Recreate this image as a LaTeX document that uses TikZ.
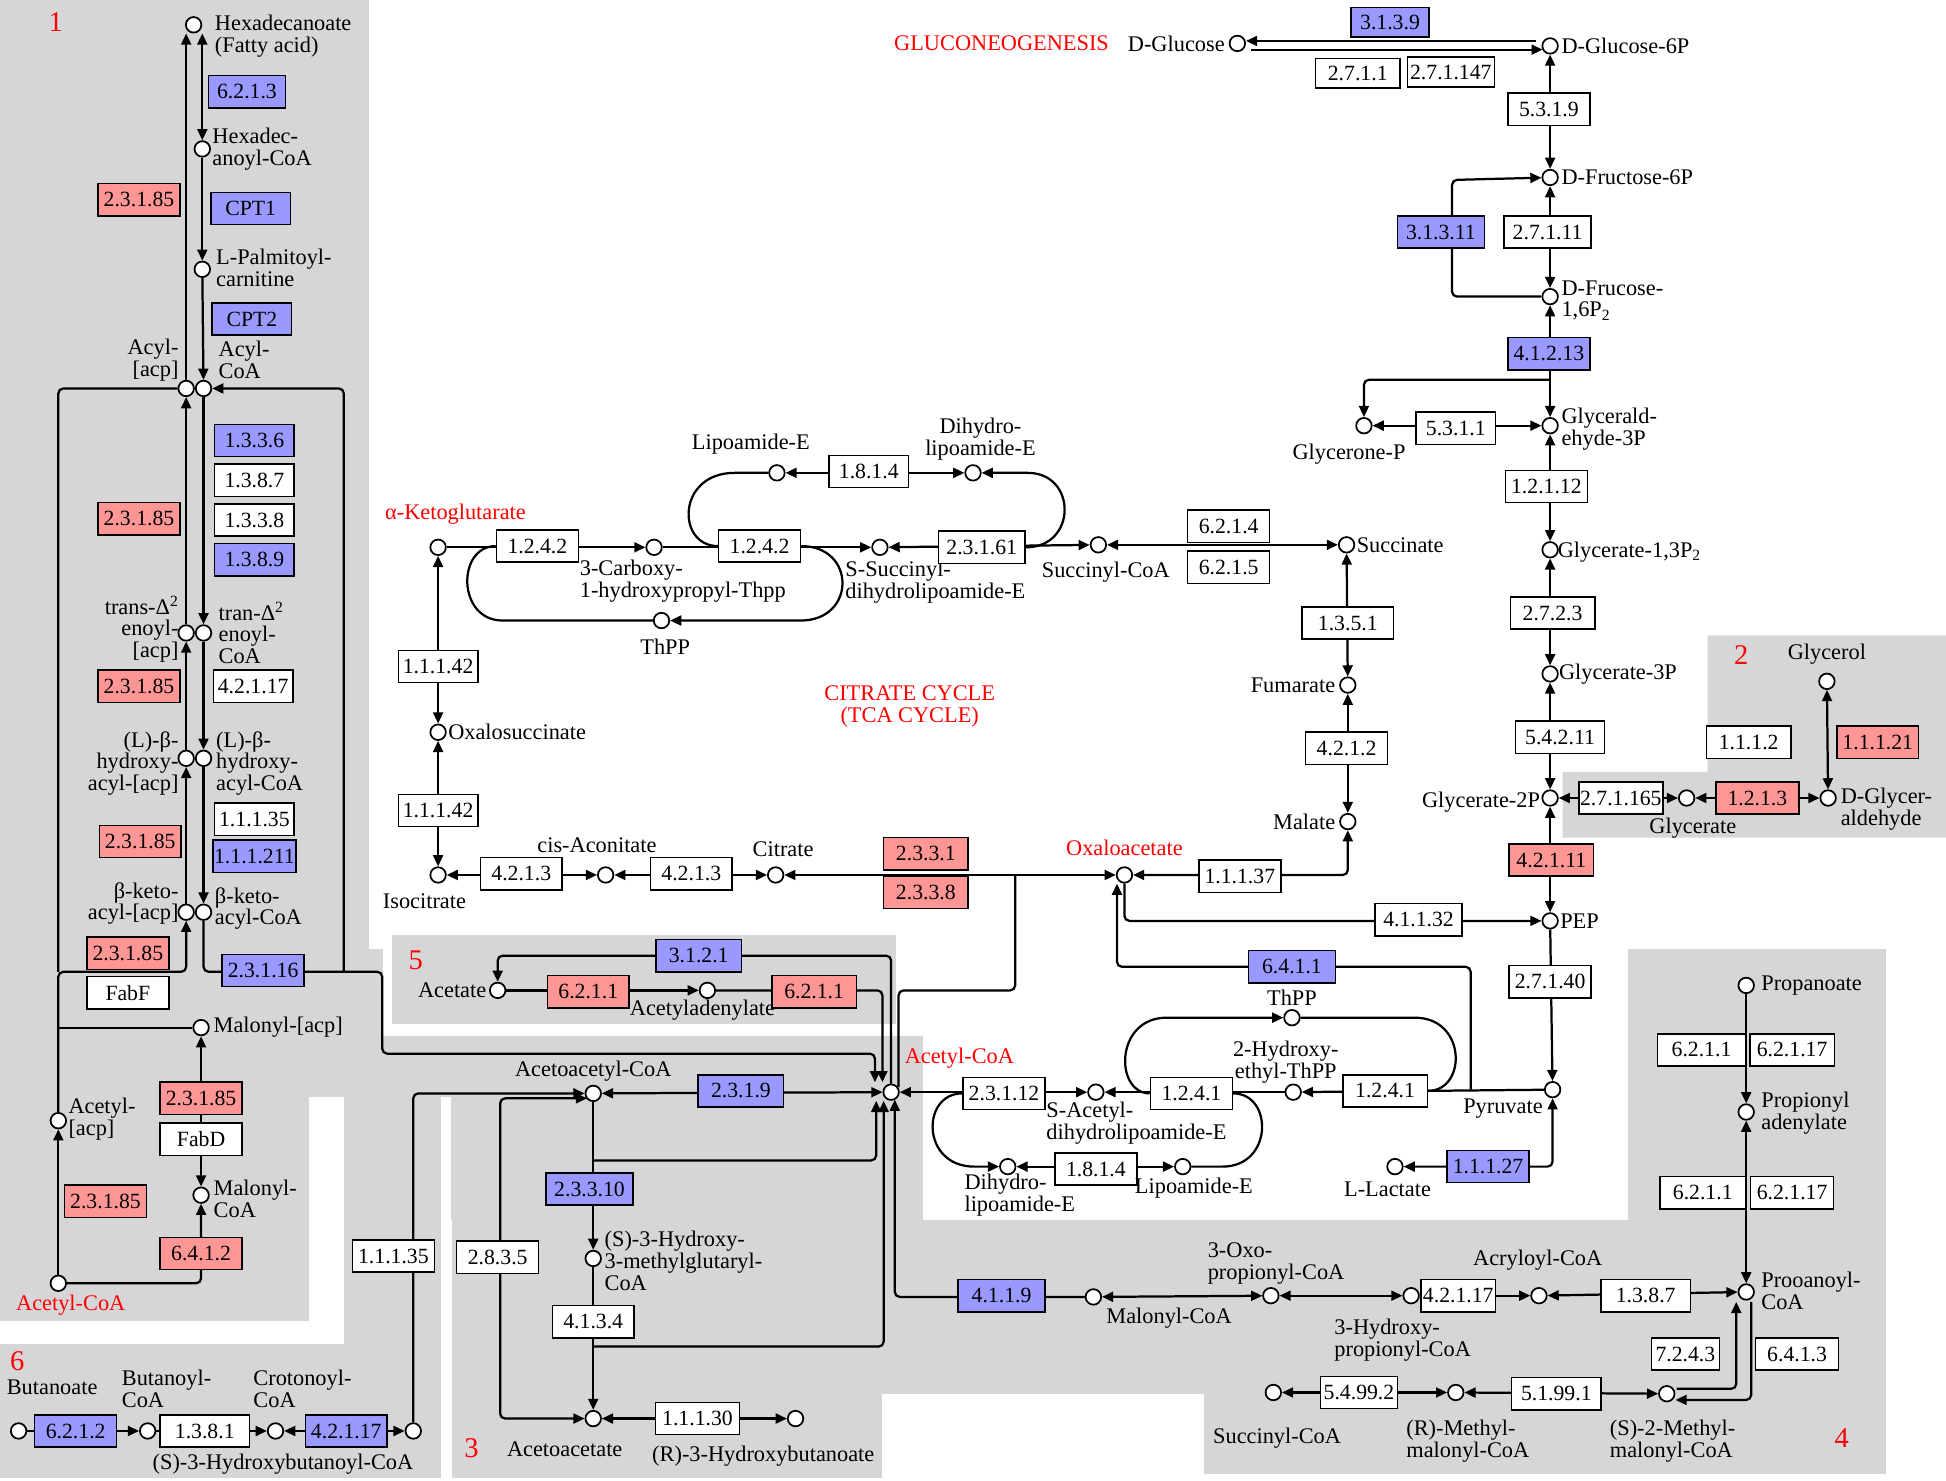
\documentclass[tikz,border=0pt]{standalone}
\usepackage{fontspec}
\setmainfont{Liberation Serif}
\usetikzlibrary{arrows.meta}
\pgfdeclarelayer{bg}
\pgfdeclarelayer{lines}
\pgfsetlayers{bg,lines,main}
\definecolor{greyreg}{RGB}{214,214,217}
\definecolor{enzblue}{RGB}{153,153,255}
\definecolor{enzred}{RGB}{255,150,150}
\definecolor{lblred}{RGB}{255,0,0}
\tikzset{
  met/.style={circle,draw,line width=1.4pt,fill=white,minimum size=12.5pt,inner sep=0pt},
  enz/.style={rectangle,draw,line width=1.2pt,fill=white,minimum width=66pt,minimum height=26pt,inner sep=1pt,font=\fontsize{17.5}{18}\selectfont},
  enzb/.style={enz,fill=enzblue},
  enzr/.style={enz,fill=enzred},
  lbl/.style={inner sep=1pt,font=\fontsize{18}{17.5}\selectfont},
  lblL/.style={lbl,anchor=west,align=left},
  lblR/.style={lbl,anchor=east,align=right},
  lblC/.style={lbl,align=center},
  redlbl/.style={lbl,text=lblred},
  regnum/.style={inner sep=0pt,text=lblred,font=\fontsize{23}{23}\selectfont},
  conn/.style={line width=1.8pt},
  rc/.style={rounded corners=4pt},
  >={Triangle[length=9pt,width=8pt]},
}
\begin{document}
\begin{tikzpicture}[x=1pt,y=-1pt]
\useasboundingbox (0,0) rectangle (1568,1193);
% ---------------- background regions
\begin{pgfonlayer}{bg}
\fill[white] (0,0) rectangle (1568,1193);
\fill[greyreg] (0,0) rectangle (297,775);
\fill[greyreg] (0,765) rectangle (309,884);
\fill[greyreg] (0,835) rectangle (744,884);
\fill[greyreg] (363,884) rectangle (744,983);
\fill[greyreg] (0,884) rectangle (249,1064);
\fill[greyreg] (277,884) rectangle (355,1191);
\fill[greyreg] (0,1083) rectangle (355,1191);
\fill[greyreg] (364,884) rectangle (711,1191);
\fill[greyreg] (364,983) rectangle (1520,1123);
\fill[greyreg] (1312,765) rectangle (1520,1188);
\fill[greyreg] (970,1122) rectangle (1520,1188);
\fill[greyreg] (316,753) rectangle (722,825);
\fill[greyreg] (1376,512) -- (1568,512) -- (1568,675) -- (1259,675) -- (1259,622) -- (1376,622) -- cycle;
\end{pgfonlayer}

% ---------------- region 1
\node[regnum] (n1) at (45,18) {1};
\node[met] (hexa) at (156,20) {};
\node[lblL] (t1) at (172,29) {Hexadecanoate\\(Fatty acid)};
\node[enzb,minimum width=62pt] (e6213) at (199,74) {6.2.1.3};
\node[met] (hexcoa) at (163,120) {};
\node[lblL] (t2) at (170,120) {Hexadec-\\anoyl-CoA};
\node[enzb,minimum width=64pt] (cpt1) at (202,168) {CPT1};
\node[enzr] (r1a) at (112,161) {2.3.1.85};
\node[met] (palm) at (163,217) {};
\node[lblL] (t3) at (173,216) {L-Palmitoyl-\\carnitine};
\node[enzb,minimum width=64pt] (cpt2) at (203,257) {CPT2};
\node[met] (acylacp) at (150,313) {};
\node[met] (acylcoa) at (164,313) {};
\node[lblR] (t4) at (145,290) {Acyl-\\{}[acp]};
\node[lblL] (t5) at (175,290) {Acyl-\\CoA};
\node[enzb,minimum width=64pt] (e1336) at (205,355) {1.3.3.6};
\node[enz,minimum width=64pt] (e1387) at (205,387) {1.3.8.7};
\node[enz,minimum width=64pt] (e1338) at (205,419) {1.3.3.8};
\node[enzb,minimum width=64pt] (e1389) at (205,451) {1.3.8.9};
\node[enzr] (r1b) at (112,418) {2.3.1.85};
\node[met] (enoylacp) at (150,510) {};
\node[met] (enoylcoa) at (164,510) {};
\node[lblR] (t6) at (145,507) {trans-Δ\textsuperscript{2}\\enoyl-\\{}[acp]};
\node[lblL] (t7) at (175,510) {tran-Δ\textsuperscript{2}\\enoyl-\\CoA};
\node[enzr] (r1c) at (112,553) {2.3.1.85};
\node[enz,minimum width=64pt] (e42117) at (204,553) {4.2.1.17};
\node[met] (hydacp) at (150,611) {};
\node[met] (hydcoa) at (164,611) {};
\node[lblR] (t8) at (145,615) {(L)-β-\\hydroxy-\\acyl-[acp]};
\node[lblL] (t9) at (173,615) {(L)-β-\\hydroxy-\\acyl-CoA};
\node[enzr] (r1d) at (113,678) {2.3.1.85};
\node[enz,minimum width=64pt] (e11135) at (205,660) {1.1.1.35};
\node[enzb,minimum width=64pt] (e111211) at (205,690) {1.1.1.211};
\node[met] (ketoacp) at (150,735) {};
\node[met] (ketocoa) at (164,735) {};
\node[lblR] (t10) at (145,728) {β-keto-\\acyl-[acp]};
\node[lblL] (t11) at (172,732) {β-keto-\\acyl-CoA};
\node[enzr] (r1e) at (103,768) {2.3.1.85};
\node[enz] (fabf) at (103,800) {FabF};
\node[enzb] (e23116) at (212,782) {2.3.1.16};
\node[met] (malacp) at (162,828) {};
\node[lblL] (t12) at (171,828) {Malonyl-[acp]};
\node[met] (acetylacp) at (47,903) {};
\node[lblL] (t13) at (54,902) {Acetyl-\\{}[acp]};
\node[enzr] (r1f) at (162,885) {2.3.1.85};
\node[enz] (fabd) at (162,918) {FabD};
\node[met] (malcoa) at (162,963) {};
\node[lblL] (t14) at (171,966) {Malonyl-\\CoA};
\node[enzr] (r1g) at (85,968) {2.3.1.85};
\node[enzr] (e6412) at (162,1010) {6.4.1.2};
\node[met] (accL) at (47,1034) {};
\node[redlbl] (t15) at (57,1052) {Acetyl-CoA};

% ---------------- region 6
\node[regnum] (n6) at (14,1097) {6};
\node[lbl] (t16) at (42,1118) {Butanoate};
\node[met] (but) at (15,1153) {};
\node[enzb] (e6212) at (61,1153) {6.2.1.2};
\node[met] (butcoa) at (119,1153) {};
\node[lblL] (t17) at (97,1119) {Butanoyl-\\CoA};
\node[enz,minimum width=72pt] (e1381) at (165,1153) {1.3.8.1};
\node[met] (crot) at (222,1153) {};
\node[lblL] (t18) at (203,1119) {Crotonoyl-\\CoA};
\node[enzb] (e42117b) at (279,1153) {4.2.1.17};
\node[met] (shb) at (333,1153) {};
\node[lbl] (t19) at (228,1180) {(S)-3-Hydroxybutanoyl-CoA};
\node[enz] (e11135b) at (317,1012) {1.1.1.35};

% ---------------- region 5
\node[regnum] (n5) at (335,774) {5};
\node[met] (acetate) at (401,798) {};
\node[lblR] (t20) at (393,798) {Acetate};
\node[enzb,minimum width=69pt] (e3121) at (563,770) {3.1.2.1};
\node[enzr] (e6211a) at (474,799) {6.2.1.1};
\node[met] (acad) at (570,798) {};
\node[lbl] (t21) at (566,814) {Acetyladenylate};
\node[enzr,minimum width=68pt] (e6211b) at (656,799) {6.2.1.1};

% ---------------- region 3
\node[regnum] (n3) at (380,1167) {3};
\node[met] (acaccoa) at (478,881) {};
\node[lbl] (t22) at (478,863) {Acetoacetyl-CoA};
\node[enzb,minimum width=69pt] (e2319) at (597,879) {2.3.1.9};
\node[enzb,minimum width=70pt] (e23310) at (475,958) {2.3.3.10};
\node[met] (hmg) at (478,1014) {};
\node[lblL] (t23) at (486,1016) {(S)-3-Hydroxy-\\3-methylglutaryl-\\CoA};
\node[enz] (e4134) at (478,1065) {4.1.3.4};
\node[met] (acac) at (478,1143) {};
\node[lbl] (t24) at (455,1168) {Acetoacetate};
\node[enz] (e2835) at (401,1013) {2.8.3.5};
\node[enz,minimum width=68pt] (e11130) at (562,1143) {1.1.1.30};
\node[met] (rhb) at (641,1143) {};
\node[lbl] (t25) at (615,1173) {(R)-3-Hydroxybutanoate};

% ---------------- central acetyl-CoA
\node[met] (acc) at (718,880) {};
\node[redlbl] (t26) at (773,853) {Acetyl-CoA};

% ---------------- pyruvate area
\node[met] (pyr) at (1251,878) {};
\node[lbl] (t27) at (1211,893) {Pyruvate};
\node[enz,minimum width=68pt] (e1241a) at (1116,879) {1.2.4.1};
\node[met] (hetpp) at (1042,880) {};
\node[lblC] (t28) at (1036,856) {2-Hydroxy-\\ethyl-ThPP};
\node[enz] (e1241b) at (960,881) {1.2.4.1};
\node[met] (sacet) at (883,880) {};
\node[lblL] (t29) at (842,905) {S-Acetyl-\\dihydrolipoamide-E};
\node[met] (thpp2) at (1041,820) {};
\node[lbl] (t30) at (1041,804) {ThPP};
\node[enz] (e23112) at (809,881) {2.3.1.12};
\node[met] (dhl2) at (812,940) {};
\node[lblL] (t31) at (776,963) {Dihydro-\\lipoamide-E};
\node[enz] (e1814b) at (883,942) {1.8.1.4};
\node[met] (lip2) at (953,940) {};
\node[lbl] (t32) at (962,957) {Lipoamide-E};
\node[enzb] (e11127) at (1199,940) {1.1.1.27};
\node[met] (lact) at (1124,940) {};
\node[lbl] (t33) at (1118,958) {L-Lactate};
\node[enz] (e27140) at (1249,791) {2.7.1.40};
\node[met] (pep) at (1249,742) {};
\node[lblL] (t34) at (1256,742) {PEP};
\node[enz,minimum width=70pt] (e41132) at (1143,741) {4.1.1.32};
\node[enzb,minimum width=70pt] (e6411) at (1041,779) {6.4.1.1};

% ---------------- TCA cycle
\node[met] (akg) at (353,441) {};
\node[redlbl] (t35) at (367,414) {α-Ketoglutarate};
\node[enz] (e1242a) at (433,440) {1.2.4.2};
\node[met] (carb) at (527,441) {};
\node[lblL] (t36) at (466,468) {3-Carboxy-\\1-hydroxypropyl-Thpp};
\node[enz] (e1242b) at (612,440) {1.2.4.2};
\node[met] (ssuc) at (709,441) {};
\node[lblL] (t37) at (680,469) {S-Succinyl-\\dihydrolipoamide-E};
\node[enz,minimum width=70pt] (e23161) at (791,441) {2.3.1.61};
\node[met] (succoa) at (885,439) {};
\node[lbl] (t38) at (891,461) {Succinyl-CoA};
\node[met] (thpp1) at (533,500) {};
\node[lbl] (t39) at (536,521) {ThPP};
\node[met] (lipo1) at (626,381) {};
\node[lbl] (t40) at (605,358) {Lipoamide-E};
\node[enz,minimum width=64pt] (e1814a) at (700,380) {1.8.1.4};
\node[met] (dhl1) at (784,381) {};
\node[lblC] (t41) at (790,354) {Dihydro-\\lipoamide-E};
\node[enz] (e6214) at (990,424) {6.2.1.4};
\node[enz] (e6215) at (990,457) {6.2.1.5};
\node[met] (succ) at (1085,439) {};
\node[lblL] (t42) at (1092,439) {Succinate};
\node[enz,minimum width=74pt] (e1351) at (1086,502) {1.3.5.1};
\node[met] (fum) at (1086,552) {};
\node[lblR] (t43) at (1077,552) {Fumarate};
\node[enz] (e4212) at (1085,603) {4.2.1.2};
\node[met] (mal) at (1086,662) {};
\node[lblR] (t44) at (1077,662) {Malate};
\node[enz] (e11137) at (999,706) {1.1.1.37};
\node[met] (oaa) at (906,705) {};
\node[redlbl] (t45) at (906,683) {Oxaloacetate};
\node[enzr,minimum width=68pt] (e2331) at (746,688) {2.3.3.1};
\node[enzr,minimum width=68pt] (e2338) at (746,719) {2.3.3.8};
\node[met] (citrate) at (625,705) {};
\node[lbl] (t46) at (631,684) {Citrate};
\node[met] (cisacon) at (488,705) {};
\node[lbl] (t47) at (481,681) {cis-Aconitate};
\node[enz] (e4213a) at (420,704) {4.2.1.3};
\node[enz] (e4213b) at (557,704) {4.2.1.3};
\node[met] (isocit) at (353,705) {};
\node[lbl] (t48) at (342,726) {Isocitrate};
\node[enz,minimum width=64pt] (e11142a) at (353,653) {1.1.1.42};
\node[enz,minimum width=64pt] (e11142b) at (353,537) {1.1.1.42};
\node[met] (oxalo) at (353,590) {};
\node[lblL] (t49) at (360,590) {Oxalosuccinate};
\node[redlbl,align=center] (t50) at (733,569) {CITRATE CYCLE\\(TCA CYCLE)};

% ---------------- gluconeogenesis
\node[redlbl] (t51) at (807,35) {GLUCONEOGENESIS};
\node[met] (glc) at (997,35) {};
\node[lblR] (t52) at (988,35) {D-Glucose};
\node[enzb,minimum width=63pt,minimum height=24pt] (e3139) at (1120,18) {3.1.3.9};
\node[enz,minimum width=68pt,minimum height=24pt] (e2711) at (1094,59) {2.7.1.1};
\node[enz,minimum width=70pt,minimum height=24pt] (e271147) at (1169,58) {2.7.1.147};
\node[met] (g6p) at (1249,37) {};
\node[lblL] (t53) at (1257,37) {D-Glucose-6P};
\node[enz] (e5319) at (1248,88) {5.3.1.9};
\node[met] (f6p) at (1249,143) {};
\node[lblL] (t54) at (1257,143) {D-Fructose-6P};
\node[enzb,minimum width=70pt] (e31311) at (1161,187) {3.1.3.11};
\node[enz,minimum width=70pt] (e27111) at (1247,187) {2.7.1.11};
\node[met] (fbp) at (1249,239) {};
\node[lblL] (t55) at (1257,242) {D-Frucose-\\1,6P\textsubscript{2}};
\node[enzb] (e41213) at (1248,285) {4.1.2.13};
\node[met] (gap) at (1249,343) {};
\node[lblL] (t56) at (1257,346) {Glycerald-\\ehyde-3P};
\node[met] (dhap) at (1099,343) {};
\node[lbl] (t57) at (1087,366) {Glycerone-P};
\node[enz,minimum width=64pt] (e5311) at (1173,345) {5.3.1.1};
\node[enz] (e12112) at (1246,392) {1.2.1.12};
\node[met] (bpg) at (1249,443) {};
\node[lblL] (t58) at (1254,445) {Glycerate-1,3P\textsubscript{2}};
\node[enz,minimum width=68pt] (e2723) at (1251,494) {2.7.2.3};
\node[met] (g3p) at (1249,543) {};
\node[lblL] (t59) at (1255,543) {Glycerate-3P};
\node[enz,minimum width=72pt] (e54211) at (1257,594) {5.4.2.11};
\node[met] (g2p) at (1249,643) {};
\node[lblR] (t60) at (1242,646) {Glycerate-2P};
\node[enzr,minimum width=68pt] (e42111) at (1250,693) {4.2.1.11};

% ---------------- region 2
\node[regnum] (n2) at (1403,528) {2};
\node[lbl] (t61) at (1472,527) {Glycerol};
\node[met] (glyol) at (1472,549) {};
\node[enz,minimum width=68pt] (e1112) at (1409,598) {1.1.1.2};
\node[enzr] (e11121) at (1513,598) {1.1.1.21};
\node[met] (dglyc) at (1473,643) {};
\node[lblL] (t62) at (1482,652) {D-Glycer-\\aldehyde};
\node[enzr,minimum width=67pt] (e1213) at (1416,643) {1.2.1.3};
\node[met] (glyc) at (1359,643) {};
\node[lbl] (t63) at (1364,667) {Glycerate};
\node[enz,minimum width=67pt] (e271165) at (1306,643) {2.7.1.165};

% ---------------- region 4 / propanoate
\node[enzb,minimum width=70pt] (e4119) at (807,1044) {4.1.1.9};
\node[met] (malcoa2) at (881,1045) {};
\node[lbl] (t64) at (942,1062) {Malonyl-CoA};
\node[met] (oxoprop) at (1024,1044) {};
\node[lblL] (t65) at (972,1018) {3-Oxo-\\propionyl-CoA};
\node[met] (hyprop) at (1137,1044) {};
\node[lblL] (t66) at (1074,1080) {3-Hydroxy-\\propionyl-CoA};
\node[enz,minimum width=60pt] (e42117c) at (1175,1044) {4.2.1.17};
\node[met] (acryl) at (1240,1044) {};
\node[lbl] (t67) at (1239,1015) {Acryloyl-CoA};
\node[enz,minimum width=72pt] (e1387b) at (1326,1044) {1.3.8.7};
\node[met] (propcoa) at (1407,1041) {};
\node[lblL] (t68) at (1418,1040) {Prooanoyl-\\CoA};
\node[met] (propan) at (1407,794) {};
\node[lblL] (t69) at (1418,794) {Propanoate};
\node[enz,minimum width=71pt] (e6211c) at (1371,846) {6.2.1.1};
\node[enz,minimum width=68pt] (e62117a) at (1444,846) {6.2.1.17};
\node[met] (propad) at (1407,896) {};
\node[lblL] (t70) at (1418,897) {Propionyl\\adenylate};
\node[enz,minimum width=69pt] (e6211d) at (1372,961) {6.2.1.1};
\node[enz,minimum width=67pt] (e62117b) at (1444,961) {6.2.1.17};
\node[enz,minimum width=55pt] (e7243) at (1358,1091) {7.2.4.3};
\node[enz,minimum width=67pt] (e6413) at (1448,1091) {6.4.1.3};
\node[met] (smm) at (1343,1123) {};
\node[lblL] (t71) at (1296,1161) {(S)-2-Methyl-\\malonyl-CoA};
\node[enz,minimum width=72pt] (e51991) at (1254,1123) {5.1.99.1};
\node[met] (rmm) at (1173,1122) {};
\node[lblL] (t72) at (1132,1161) {(R)-Methyl-\\malonyl-CoA};
\node[enz,minimum width=62pt] (e54992) at (1095,1122) {5.4.99.2};
\node[met] (succoa2) at (1026,1122) {};
\node[lbl] (t73) at (1029,1159) {Succinyl-CoA};
\node[regnum] (n4) at (1484,1159) {4};

% ---------------- junction coordinates
\coordinate (jL) at (47,783);
\coordinate (jR) at (277,783);
\coordinate (c308) at (308,783);
\coordinate (c849) at (705,849);
\coordinate (accT1) at (705,872);
\coordinate (accT2) at (711,872);
\coordinate (accT4) at (724,876);
\coordinate (cs1) at (818,798);
\coordinate (accB1) at (706,887);
\coordinate (accB2) at (712,887);
\coordinate (accB3) at (721,886);
\coordinate (jb1) at (478,935);
\coordinate (jb2) at (478,1085);
\coordinate (acaccoaSW) at (473,885);
\coordinate (c403) at (403,1000);
\coordinate (pyrJ) at (1185,878);
\coordinate (oaaB) at (900,712);
\coordinate (glcA) at (1004,33);
\coordinate (g6pA) at (1238,33);
\coordinate (glcB) at (1008,40);
\coordinate (g6pB) at (1243,40);
\coordinate (c1170) at (1170,145);
\coordinate (jgap) at (1249,306);
\coordinate (pcBL) at (1399,1049);
\coordinate (pcBR) at (1411,1049);
\coordinate (smmA) at (1351,1119);
\coordinate (smmB) at (1350,1128);

% ---------------- connectors
\begin{pgfonlayer}{lines}
\begin{scope}[conn]
% region 1
\draw[->] (acylacp.north) -- (acylacp.north |- hexa.south);
\draw[<->] (hexcoa.north) -- (hexcoa.north |- hexa.south);
\draw[->] (hexcoa) -- (palm);
\draw[->] (palm) -- (acylcoa);
\draw[->] (acylcoa) -- (enoylcoa);
\draw[->] (enoylcoa) -- (hydcoa);
\draw[->] (hydcoa) -- (ketocoa);
\draw[->] (enoylacp) -- (acylacp);
\draw[->] (hydacp) -- (enoylacp);
\draw[->] (ketoacp) -- (hydacp);
\draw[rc] (acylacp.west) -| (jL);
\draw[->,rc] (acetylacp.north) -- (jL) -| (ketoacp.south);
\draw (malacp.west) -- (malacp.west -| jL);
\draw[->] (accL) -- (acetylacp);
\draw[->,rc] (accL.east) -| (malcoa.south);
\draw[<->] (malcoa) -- (malacp);
\draw[->,rc] (ketocoa.south) |- (c308) |- (c849) -- (accT1);
\draw[->,rc] (jR) |- (acylcoa.east);
% region 6
\draw[->] (but) -- (butcoa);
\draw[->] (butcoa) -- (crot);
\draw[<->] (crot) -- (shb);
\draw[->,rc] (shb.north) |- (acaccoa.west);
% region 3
\draw[<->,rc] (acaccoaSW) -| (c403) |- (acac.west);
\draw[->] (acaccoa) -- (hmg);
\draw[->] (hmg) -- (acac);
\draw[->,rc] (jb1) -| (accB1);
\draw[->,rc] (jb2) -| (accB2);
\draw[<->] (acac) -- (rhb);
\draw[<->] (acaccoa) -- (acc);
% region 5
\draw[->] (acetate) -- (acad);
\draw[->,rc] (acad.east) -| (accT2);
\draw[->,rc] (acc.north) |- (acetate.north |- e3121) -- (acetate.north);
% citrate synthase
\draw[rc] (accT4) |- (cs1) -- (cs1 |- oaa);
\draw[<->] (citrate) -- (oaa);
% malonyl-CoA decarboxylase
\draw[->,rc] (malcoa2.west) -| (accB3);
% pyruvate dehydrogenase
\draw[<->] (acc) -- (sacet);
\draw[->] (pyr) -- (hetpp);
\draw[->] (hetpp) -- (sacet);
\draw[->] (e1241b.west) .. controls (898,881) and (898,820) .. (940,820) -- (thpp2);
\draw (thpp2) -- (1140,820) .. controls (1182,820) and (1182,879) .. (e1241a.east);
\draw[->] (e23112.west) .. controls (742,881) and (742,940) .. (785,940) -- (dhl2);
\draw (lip2) -- (985,940) .. controls (1026,940) and (1026,881) .. (e1241b.east);
\draw[<->] (dhl2) -- (lip2);
\draw[<->,rc] (lact.east) -| (pyr.south);
\draw[->] (pep) -- (pyr);
\draw[->,rc] (oaa.south) |- (pep.west);
\draw[->,rc] (pyrJ) |- (oaaB |- e6411) -- (oaaB);
% TCA
\draw[->] (akg) -- (carb);
\draw[->] (carb) -- (ssuc);
\draw[<->] (ssuc) -- (succoa);
\draw[->] (e1242b.east) .. controls (690,440) and (690,500) .. (645,500) -- (thpp1);
\draw (thpp1) -- (405,500) .. controls (368,500) and (368,440) .. (e1242a.west);
\draw (lipo1) -- (592,381) .. controls (545,381) and (545,440) .. (e1242b.west);
\draw[->] (e23161.east) .. controls (868,441) and (868,381) .. (828,381) -- (dhl1);
\draw[<->] (lipo1) -- (dhl1);
\draw[<->] (succoa) -- (succ);
\draw[<->] (succ) -- (fum);
\draw[<->] (fum) -- (mal);
\draw[<->,rc] (mal.south) |- (oaa.east);
\draw[<->] (isocit) -- (cisacon);
\draw[<->] (cisacon) -- (citrate);
\draw[<->] (isocit) -- (oxalo);
\draw[<->] (oxalo) -- (akg);
% gluconeogenesis
\draw[->] (g6pA) -- (glcA);
\draw[->] (glcB) -- (g6pB);
\draw[<->] (g6p) -- (f6p);
\draw[<->] (f6p) -- (fbp);
\draw[->,rc] (fbp.west) -| (c1170) -- (f6p);
\draw[<->] (fbp) -- (gap);
\draw[->,rc] (jgap) -| (dhap.north);
\draw[<->] (dhap) -- (gap);
\draw[<->] (gap) -- (bpg);
\draw[<->] (bpg) -- (g3p);
\draw[<->] (g3p) -- (g2p);
\draw[<->] (g2p) -- (pep);
% region 2
\draw[<->] (glyol) -- (dglyc);
\draw[<->] (glyc) -- (dglyc);
\draw[<->] (g2p) -- (glyc);
% region 4
\draw[<->] (malcoa2) -- (oxoprop);
\draw[<->] (oxoprop) -- (hyprop);
\draw[<->] (hyprop) -- (acryl);
\draw[<->] (acryl) -- (propcoa);
\draw[->] (propan) -- (propad);
\draw[<->] (propad) -- (propcoa);
\draw[->,rc] (smmA) -| (pcBL);
\draw[->,rc] (pcBR) |- (smmB);
\draw[<->] (rmm) -- (smm);
\draw[<->] (succoa2) -- (rmm);
\end{scope}
\end{pgfonlayer}
\end{tikzpicture}
\end{document}
